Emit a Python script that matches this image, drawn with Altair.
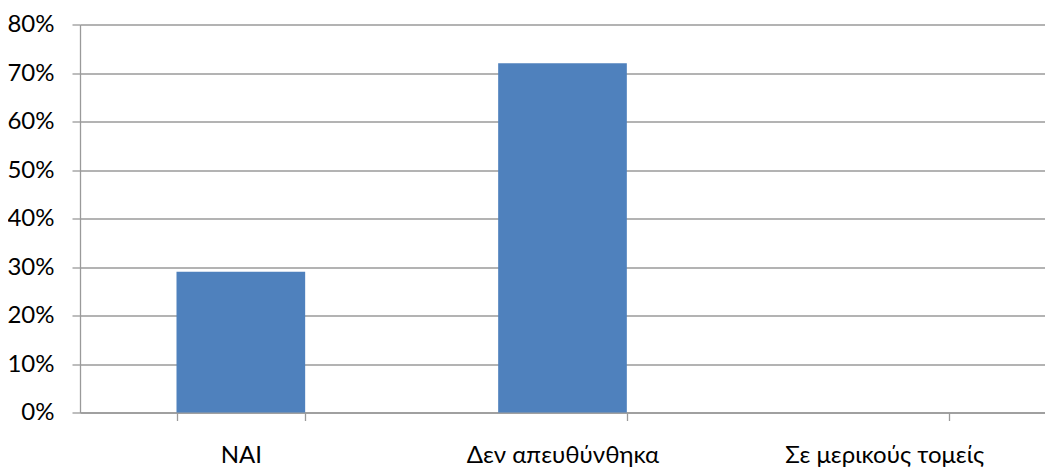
import altair as alt
import pandas as pd

categories = ["NAI", "Δεν απευθύνθηκα", "Σε μερικούς τομείς"]
values = [0.29, 0.72, 0.0]
y_ticks = [0, 0.1, 0.2, 0.3, 0.4, 0.5, 0.6, 0.7, 0.8]

df = pd.DataFrame({"cat": categories, "val": values})

FONT = "Lato"
GRID = "#9a9a9a"

chart = alt.Chart(df).mark_bar(color="#4F81BD").encode(
    x=alt.X(
        "cat:N",
        sort=categories,
        title=None,
        scale=alt.Scale(paddingInner=0.6, paddingOuter=0.3),
        axis=alt.Axis(
            labelAngle=0,
            labelFont=FONT,
            labelFontSize=24,
            labelColor="#000000",
            labelPadding=23,
            labelLimit=0,
            tickBand="extent",
            tickSize=8,
            tickColor=GRID,
            tickWidth=1.3,
            domainColor=GRID,
            domainWidth=1.3,
            grid=False,
        ),
    ),
    y=alt.Y(
        "val:Q",
        title=None,
        scale=alt.Scale(domain=[0, 0.8], nice=False),
        axis=alt.Axis(
            values=y_ticks,
            format=".0%",
            labelFont=FONT,
            labelFontSize=24,
            labelColor="#000000",
            labelPadding=18,
            tickSize=8,
            tickColor=GRID,
            tickWidth=1.3,
            domainColor=GRID,
            domainWidth=1.3,
            gridColor=GRID,
            gridWidth=1.3,
        ),
    ),
).properties(
    width=965,
    height=388,
    autosize=alt.AutoSizeParams(type="none"),
    padding={"left": 72, "top": 16.5, "right": 0, "bottom": 62},
).configure_view(stroke=None)

chart.save("out.html", embed_options={"renderer": "svg", "actions": False})
